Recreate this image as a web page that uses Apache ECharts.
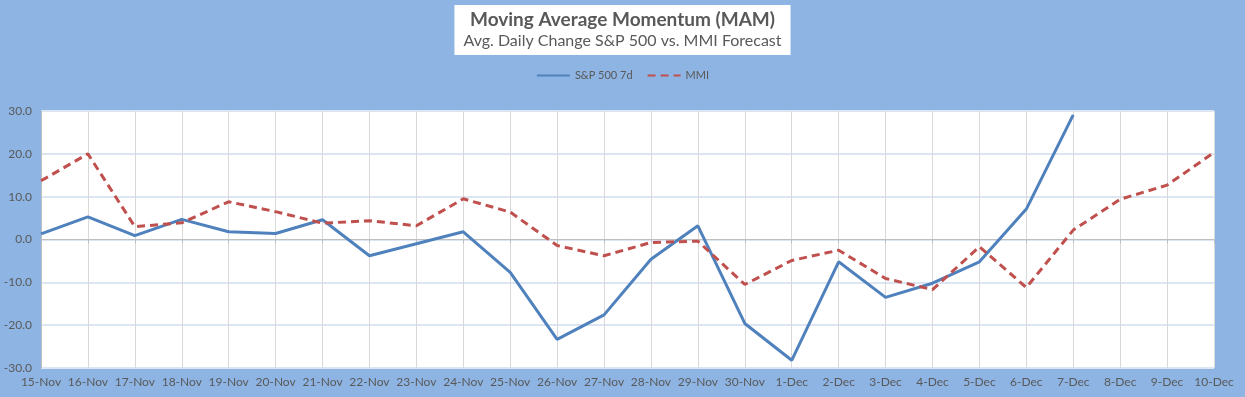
<!DOCTYPE html>
<html>
<head>
<meta charset="utf-8">
<script src="https://cdn.jsdelivr.net/npm/echarts@6/dist/echarts.min.js"></script>
<style>
  html, body { margin: 0; padding: 0; background: #8EB4E3; }
  #main { width: 1245px; height: 397px; }
</style>
</head>
<body>
<div id="main"></div>
<script>
// categories (dates)
const days = ['15-Nov','16-Nov','17-Nov','18-Nov','19-Nov','20-Nov','21-Nov','22-Nov','23-Nov','24-Nov',
  '25-Nov','26-Nov','27-Nov','28-Nov','29-Nov','30-Nov','1-Dec','2-Dec','3-Dec','4-Dec',
  '5-Dec','6-Dec','7-Dec','8-Dec','9-Dec','10-Dec'];

// S&P 500 7d avg daily change (no data after 7-Dec)
const sp500 = [1.3, 5.3, 0.9, 4.7, 1.8, 1.4, 4.6, -3.8, -1.0, 1.8,
  -7.7, -23.3, -17.6, -4.6, 3.2, -19.6, -28.2, -5.2, -13.5, -10.2,
  -5.2, 7.1, 29.1, null, null, null];

// MMI forecast
const mmi = [13.7, 20.0, 3.0, 3.9, 8.8, 6.5, 3.8, 4.4, 3.2, 9.5,
  6.4, -1.4, -3.8, -0.7, -0.4, -10.5, -4.9, -2.5, -9.1, -11.7,
  -1.7, -11.2, 2.2, 9.4, 12.7, 20.3];

const txt = '#595959';
const chart = echarts.init(document.getElementById('main'));

chart.setOption({
  backgroundColor: '#8EB4E3',
  animation: false,
  textStyle: { fontFamily: 'Lato' },
  title: {
    text: 'Moving Average Momentum (MAM)',
    subtext: 'Avg. Daily Change S&P 500 vs. MMI Forecast',
    left: 'center',
    top: 5,
    itemGap: 4,
    padding: [5, 9, 6, 9],
    backgroundColor: '#ffffff',
    textStyle: { fontSize: 19, fontWeight: 'bold', color: txt, fontFamily: 'Lato' },
    subtextStyle: { fontSize: 16, color: txt, fontFamily: 'Lato' }
  },
  legend: {
    top: 65,
    left: 'center',
    itemWidth: 33,
    itemHeight: 10,
    itemGap: 14,
    itemStyle: { opacity: 0 },
    textStyle: { fontSize: 11, color: txt, fontFamily: 'Lato' },
    data: ['S&P 500 7d', 'MMI']
  },
  grid: {
    left: 41, right: 31, top: 111, bottom: 29,
    show: true, backgroundColor: '#ffffff', borderWidth: 0
  },
  xAxis: {
    type: 'category',
    boundaryGap: false,
    data: days,
    axisLine: { lineStyle: { color: '#BFBFBF', width: 1 } },
    axisTick: { show: true, length: 4, lineStyle: { color: '#BFBFBF' } },
    axisLabel: { color: txt, fontSize: 12, margin: 8, interval: 0 },
    splitLine: { show: true, lineStyle: { color: '#D9D9D9', width: 1 } }
  },
  yAxis: {
    type: 'value',
    min: -30,
    max: 30,
    interval: 10,
    axisLine: { show: true, lineStyle: { color: '#BFBFBF' } },
    axisTick: { show: false },
    axisLabel: {
      color: txt, fontSize: 12, margin: 9,
      formatter: v => v.toFixed(1)
    },
    splitLine: { lineStyle: { color: '#DCE6F2', width: 2 } }
  },
  series: [
    {
      name: 'S&P 500 7d',
      type: 'line',
      data: sp500,
      symbol: 'none',
      connectNulls: false,
      itemStyle: { color: '#4F81BD' },
      lineStyle: { color: '#4F81BD', width: 3 }
    },
    {
      name: 'MMI',
      type: 'line',
      data: mmi,
      symbol: 'none',
      itemStyle: { color: '#C0504D' },
      lineStyle: { color: '#C0504D', width: 3, type: [8, 5] }
    }
  ]
});
</script>
</body>
</html>
